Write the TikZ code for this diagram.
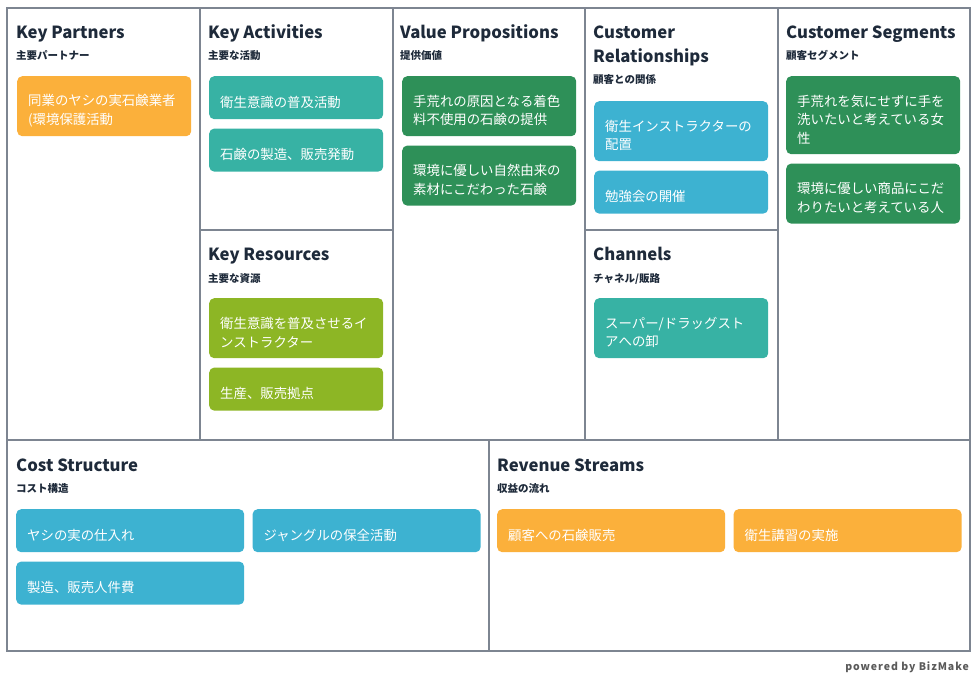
\documentclass[tikz,border=0pt]{standalone}
\usepackage{fontspec}
\setmainfont{Noto Sans CJK JP}
\newfontfamily\footfont[LetterSpace=9]{Noto Sans CJK JP}
\usetikzlibrary{positioning}
\definecolor{FrameGray}{RGB}{125,133,145}
\definecolor{TitleNavy}{RGB}{30,42,58}
\definecolor{CardOrange}{RGB}{251,176,59}
\definecolor{CardTeal}{RGB}{55,178,164}
\definecolor{CardGreen}{RGB}{46,144,88}
\definecolor{CardLime}{RGB}{141,182,37}
\definecolor{CardBlue}{RGB}{61,178,209}
\definecolor{FootGray}{RGB}{90,90,90}

\begin{document}
\begin{tikzpicture}[
        x=1pt, y=-1pt,
        frame/.style={draw=FrameGray, line width=1.3pt},
        heading/.style={anchor=base west, inner sep=0pt, text=TitleNavy,
                        font=\fontsize{16.7}{19}\selectfont\bfseries},
        subhead/.style={anchor=base west, inner sep=0pt, text=TitleNavy,
                        font=\fontsize{10.5}{12}\selectfont\bfseries},
        card/.style={rounded corners=5pt, text=white, align=left,
                     inner xsep=11pt, inner ysep=0pt,
                     execute at begin node={\rule{0pt}{20pt}},
                     font=\fontsize{13.4}{18.5}\selectfont},
        cardS/.style={card, minimum width=174pt, text width=152pt},
        cardL/.style={card, minimum width=228pt, text width=206pt},
        node distance=9pt and 8pt
    ]
        \useasboundingbox (0,0) rectangle (975,688);

        \draw[frame] (7,8) rectangle (970,651);
        \draw[frame] (7,440) -- (970,440);
        \foreach \x in {200,393,585,778}
            \draw[frame] (\x,8) -- (\x,440);
        \draw[frame] (200,230) -- (393,230);
        \draw[frame] (585,230) -- (778,230);
        \draw[frame] (489,440) -- (489,651);

        \node[heading] (kp) at (16,38) {Key Partners};
        \node[subhead] (kpsub) at (16,59) {主要パートナー};
        \node[cardS, fill=CardOrange, anchor=north west, minimum height=60pt] (kp1) at (17,76)
            {同業のヤシの実石鹸業者\\(環境保護活動};

        \node[heading] (ka) at (208,38) {Key Activities};
        \node[subhead] (kasub) at (208,59) {主要な活動};
        \node[cardS, fill=CardTeal, anchor=north west, minimum height=43pt] (ka1) at (209,76)
            {衛生意識の普及活動};
        \node[cardS, fill=CardTeal, minimum height=43pt, below=of ka1] (ka2)
            {石鹸の製造、販売発動};

        \node[heading] (kr) at (208,260) {Key Resources};
        \node[subhead] (krsub) at (208,282) {主要な資源};
        \node[cardS, fill=CardLime, anchor=north west, minimum height=60pt] (kr1) at (209,298)
            {衛生意識を普及させるイ\\ンストラクター};
        \node[cardS, fill=CardLime, minimum height=43pt, below=of kr1] (kr2)
            {生産、販売拠点};

        \node[heading] (vp) at (400,38) {Value Propositions};
        \node[subhead] (vpsub) at (400,59) {提供価値};
        \node[cardS, fill=CardGreen, anchor=north west, minimum height=60pt] (vp1) at (402,76)
            {手荒れの原因となる着色\\料不使用の石鹸の提供};
        \node[cardS, fill=CardGreen, minimum height=60pt, below=of vp1] (vp2)
            {環境に優しい自然由来の\\素材にこだわった石鹸};

        \node[heading] (cr) at (593,38) {Customer};
        \node[heading] (crb) at (593,62) {Relationships};
        \node[subhead] (crsub) at (593,83) {顧客との関係};
        \node[cardS, fill=CardBlue, anchor=north west, minimum height=60pt] (cr1) at (594,101)
            {衛生インストラクターの\\配置};
        \node[cardS, fill=CardBlue, minimum height=43pt, below=of cr1] (cr2)
            {勉強会の開催};

        \node[heading] (ch) at (593,260) {Channels};
        \node[subhead] (chsub) at (593,282) {チャネル/販路};
        \node[cardS, fill=CardTeal, anchor=north west, minimum height=60pt] (ch1) at (594,298)
            {スーパー/ドラッグスト\\アへの卸};

        \node[heading] (cs) at (786,38) {Customer Segments};
        \node[subhead] (cssub) at (786,59) {顧客セグメント};
        \node[cardS, fill=CardGreen, anchor=north west, minimum height=78pt] (cs1) at (786,76)
            {手荒れを気にせずに手を\\洗いたいと考えている女\\性};
        \node[cardS, fill=CardGreen, minimum height=60pt, below=of cs1] (cs2)
            {環境に優しい商品にこだ\\わりたいと考えている人};

        \node[heading] (co) at (16,471) {Cost Structure};
        \node[subhead] (cosub) at (16,492) {コスト構造};
        \node[cardL, fill=CardBlue, anchor=north west, minimum height=43pt] (co1) at (16,509)
            {ヤシの実の仕入れ};
        \node[cardL, fill=CardBlue, minimum height=43pt, right=of co1] (co2)
            {ジャングルの保全活動};
        \node[cardL, fill=CardBlue, minimum height=43pt, below=of co1] (co3)
            {製造、販売人件費};

        \node[heading] (rs) at (497,471) {Revenue Streams};
        \node[subhead] (rssub) at (497,492) {収益の流れ};
        \node[cardL, fill=CardOrange, anchor=north west, minimum height=43pt] (rs1) at (497,509)
            {顧客への石鹸販売};
        \node[cardL, fill=CardOrange, minimum height=43pt, right=of rs1] (rs2)
            {衛生講習の実施};

        \node[anchor=base east, inner sep=0pt, text=FootGray,
              font=\footfont\fontsize{10.5}{12}\selectfont\bfseries] (foot) at (969,670)
            {powered by BizMake};
    \end{tikzpicture}
\end{document}
